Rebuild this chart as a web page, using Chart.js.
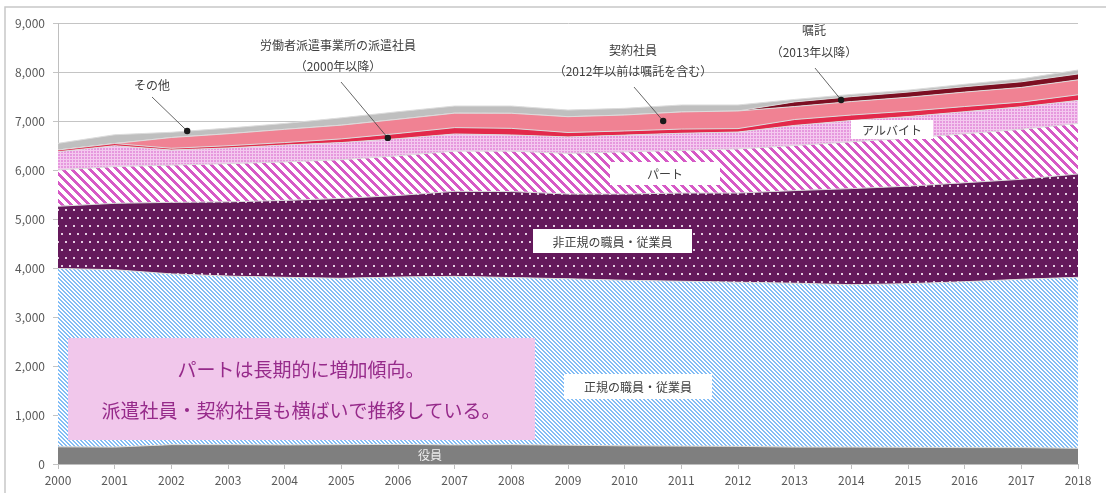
<!DOCTYPE html>
<html>
<head>
<meta charset="utf-8">
<script src="https://cdn.jsdelivr.net/npm/chart.js@4/dist/chart.umd.min.js"></script>
<style>
	html, body { margin: 0; padding: 0; background: #fff; }
	#chart { display: block; }
</style>
</head>
<body>
<canvas id="chart" width="1106" height="493"></canvas>
<script>
//years on the x axis
var years = ['2000', '2001', '2002', '2003', '2004', '2005', '2006', '2007', '2008', '2009',
	'2010', '2011', '2012', '2013', '2014', '2015', '2016', '2017', '2018'];

//series, bottom to top
var yakuin = [350, 345, 395, 395, 390, 395, 400, 390, 395, 385, 370, 365, 360, 345, 345, 340, 335, 335, 320];
var seiki = [3640, 3620, 3485, 3440, 3420, 3395, 3415, 3440, 3410, 3395, 3380, 3365, 3350, 3345, 3315, 3340, 3385, 3435, 3490];
var hiseiki = [1270, 1355, 1460, 1515, 1570, 1630, 1665, 1735, 1755, 1730, 1760, 1800, 1820, 1890, 1960, 1990, 2020, 2040, 2110];
var part = [740, 750, 760, 780, 785, 790, 810, 820, 825, 830, 860, 870, 900, 920, 955, 980, 1000, 1020, 1030];
var arubaito = [374, 425, 308, 320, 345, 350, 350, 350, 330, 335, 342, 350, 345, 410, 435, 440, 450, 460, 470];
var haken = [34, 45, 35, 45, 50, 75, 105, 130, 135, 90, 85, 85, 70, 120, 112, 110, 105, 95, 115];
var keiyaku = [0, 0, 220, 245, 270, 280, 290, 295, 307, 323, 325, 350, 360, 265, 275, 285, 295, 300, 305];
var shokutaku = [0, 0, 0, 0, 0, 0, 0, 0, 0, 0, 0, 0, 0, 95, 100, 105, 110, 115, 120];
var sonota = [136, 180, 107, 115, 120, 150, 155, 146, 149, 136, 137, 142, 122, 50, 45, 40, 50, 60, 80];

//y axis
var yMin = 0;
var yMax = 9000;
var yStep = 1000;

var FONT = "'Noto Sans CJK JP', 'Noto Sans', sans-serif";

//diagonal stripes "\\\\", drawn pixel by pixel so they stay crisp
function stripePattern(bg, fg, size, width) {
	var c = document.createElement('canvas');
	c.width = size;
	c.height = size;
	var x = c.getContext('2d');
	x.fillStyle = bg;
	x.fillRect(0, 0, size, size);
	x.fillStyle = fg;
	for (var i = 0; i < size; i++) {
		for (var j = 0; j < size; j++) {
			if (((i - j) % size + size) % size < width) {
				x.fillRect(i, j, 1, 1);
			}
		}
	}
	return x.createPattern(c, 'repeat');
}

//dotted fill (staggered dots)
function dotPattern(bg, fg) {
	var c = document.createElement('canvas');
	c.width = 8;
	c.height = 16;
	var x = c.getContext('2d');
	x.fillStyle = bg;
	x.fillRect(0, 0, 8, 16);
	x.fillStyle = fg;
	x.fillRect(1, 1, 2, 2);
	x.fillRect(5, 9, 2, 2);
	return x.createPattern(c, 'repeat');
}

//fine grid fill
function gridPattern(bg, fg) {
	var c = document.createElement('canvas');
	c.width = 3;
	c.height = 3;
	var x = c.getContext('2d');
	x.fillStyle = bg;
	x.fillRect(0, 0, 3, 3);
	x.fillStyle = fg;
	x.fillRect(0, 0, 3, 1);
	x.fillRect(0, 0, 1, 3);
	return x.createPattern(c, 'repeat');
}

function area(label, data, fill, first) {
	return {
		label: label,
		data: data,
		backgroundColor: fill,
		borderColor: '#dcdcdc',
		borderWidth: 1,
		pointRadius: 0,
		tension: 0,
		fill: first ? 'origin' : '-1'
	};
}

//white boxes with labels inside the areas
var boxes = [
	{ x: 851, y: 120, w: 82, h: 19, text: 'アルバイト' },
	{ x: 610, y: 162, w: 110, h: 23, text: 'パート' },
	{ x: 533, y: 229, w: 159, h: 24, text: '非正規の職員・従業員' },
	{ x: 564, y: 374, w: 148, h: 25, text: '正規の職員・従業員' }
];

//callouts: text lines, leader start, dot in data units (index, value)
var callouts = [
	{ lines: ['その他'], tx: 152, ty: [85], from: [152, 97], at: [2.28, 6796] },
	{ lines: ['労働者派遣事業所の派遣社員', '（2000年以降）'], tx: 338, ty: [45, 66], from: [341, 82], at: [5.82, 6655] },
	{ lines: ['契約社員', '（2012年以前は嘱託を含む）'], tx: 633, ty: [50, 71], from: [634, 87], at: [10.68, 7000] },
	{ lines: ['嘱託', '（2013年以降）'], tx: 814, ty: [30, 52], from: [815, 68], at: [13.82, 7429] }
];

var labelPlugin = {
	id: 'labelPlugin',
	afterDraw: function(chart) {
		var ctx = chart.ctx;
		var xs = chart.scales.x;
		var ys = chart.scales.y;
		ctx.save();

		//outer frame (cut at right and bottom)
		ctx.strokeStyle = '#c8c8c8';
		ctx.lineWidth = 1.5;
		ctx.beginPath();
		ctx.moveTo(5, 493);
		ctx.lineTo(5, 7);
		ctx.lineTo(1106, 7);
		ctx.stroke();

		ctx.textAlign = 'center';
		ctx.textBaseline = 'middle';

		//boxes
		ctx.font = '12px ' + FONT;
		for (var i = 0; i < boxes.length; i++) {
			var b = boxes[i];
			ctx.fillStyle = '#ffffff';
			ctx.fillRect(b.x, b.y, b.w, b.h);
			ctx.fillStyle = '#404040';
			ctx.fillText(b.text, b.x + b.w / 2, b.y + b.h / 2 + 1);
		}

		//callouts
		for (i = 0; i < callouts.length; i++) {
			var c = callouts[i];
			ctx.fillStyle = '#404040';
			for (var j = 0; j < c.lines.length; j++) {
				ctx.fillText(c.lines[j], c.tx, c.ty[j]);
			}
			var px = xs.getPixelForValue(c.at[0]);
			var py = ys.getPixelForValue(c.at[1]);
			ctx.strokeStyle = '#404040';
			ctx.lineWidth = 0.8;
			ctx.beginPath();
			ctx.moveTo(c.from[0], c.from[1]);
			ctx.lineTo(px, py);
			ctx.stroke();
			ctx.fillStyle = '#1a1a1a';
			ctx.beginPath();
			ctx.arc(px, py, 3.2, 0, Math.PI * 2);
			ctx.fill();
		}

		//役員 label
		ctx.fillStyle = '#eeeeee';
		ctx.fillText('役員', 430, 455);

		//message box
		ctx.fillStyle = '#f1c7eb';
		ctx.fillRect(68, 338, 467, 102);
		ctx.fillStyle = '#962a8a';
		ctx.font = '19px ' + FONT;
		ctx.fillText('パートは長期的に増加傾向。', 301, 370);
		ctx.fillText('派遣社員・契約社員も横ばいで推移している。', 301, 411);

		ctx.restore();
	}
};

function drawChart() {
	var ctx = document.getElementById('chart').getContext('2d');
	var datasets = [
		area('役員', yakuin, '#7f7f7f', true),
		area('正規の職員・従業員', seiki, stripePattern('#ffffff', '#84bdf5', 4, 2)),
		area('非正規の職員・従業員', hiseiki, dotPattern('#64195b', '#e6cde3')),
		area('パート', part, stripePattern('#ffffff', '#d65ac6', 9, 4)),
		area('アルバイト', arubaito, gridPattern('#e698de', '#f4c9ef')),
		area('労働者派遣事業所の派遣社員', haken, '#e3294b'),
		area('契約社員', keiyaku, '#f08293'),
		area('嘱託', shokutaku, '#7c0f22'),
		area('その他', sonota, '#bfbfbf')
	];

	var chart = new Chart(ctx, {
		type: 'line',
		data: { labels: years, datasets: datasets },
		options: {
			responsive: false,
			animation: false,
			layout: { padding: { left: 0, right: 28, top: 23, bottom: 0 } },
			plugins: {
				legend: { display: false },
				tooltip: { enabled: false }
			},
			scales: {
				x: {
					offset: false,
					grid: { drawOnChartArea: false, drawTicks: true, tickLength: 5, color: '#bfbfbf' },
					border: { display: true, color: '#bfbfbf' },
					ticks: {
						color: '#595959',
						font: { family: FONT, size: 12 },
						padding: 4,
						maxRotation: 0,
						autoSkip: false
					},
					afterFit: function(scale) { scale.height = 29; }
				},
				y: {
					stacked: true,
					min: yMin,
					max: yMax,
					grid: { color: '#c4c4c4', tickLength: 5 },
					border: { display: true, color: '#bfbfbf' },
					ticks: {
						stepSize: yStep,
						color: '#595959',
						font: { family: FONT, size: 12 },
						padding: 8,
						callback: function(v) { return v.toLocaleString('en-US'); }
					},
					afterFit: function(scale) { scale.width = 58; }
				}
			}
		},
		plugins: [labelPlugin]
	});
	return chart;
}

window.onload = drawChart;
</script>
</body>
</html>
